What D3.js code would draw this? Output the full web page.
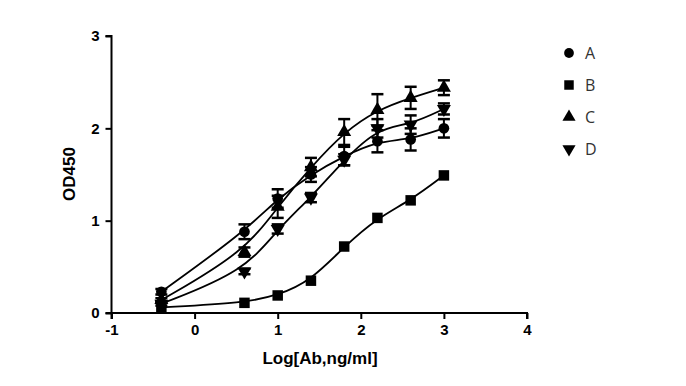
<!DOCTYPE html>
<html><head><meta charset="utf-8">
<script src="https://cdn.jsdelivr.net/npm/d3@7"></script>
<style>body{margin:0;background:#fff}svg{display:block}</style>
</head><body>
<svg id="c" width="686" height="386"></svg>
<script>
const xValues = [-0.4, 0.6, 1.0, 1.4, 1.8, 2.2, 2.6, 3.0];
const seriesNames = ["A", "B", "C", "D"];
const valuesA = [0.23, 0.88, 1.24, 1.50, 1.70, 1.86, 1.88, 2.00];
const valuesB = [0.06, 0.11, 0.19, 0.35, 0.72, 1.03, 1.22, 1.49];
const valuesC = [0.14, 0.66, 1.15, 1.58, 1.96, 2.20, 2.33, 2.44];
const valuesD = [0.10, 0.45, 0.91, 1.25, 1.66, 2.00, 2.04, 2.21];
const errA = [0.03, 0.08, 0.10, 0.08, 0.10, 0.12, 0.12, 0.10];
const errB = [0, 0, 0, 0, 0, 0, 0, 0];
const errC = [0.02, 0.05, 0.12, 0.10, 0.14, 0.17, 0.12, 0.08];
const errD = [0.02, 0.03, 0.05, 0.05, 0.06, 0.10, 0.10, 0.06];
const xTicks = [-1, 0, 1, 2, 3, 4];
const yTicks = [0, 1, 2, 3];
const xTitle = "Log[Ab,ng/ml]";
const yTitle = "OD450";

const symbols = [d3.symbolCircle, d3.symbolSquare, d3.symbolTriangle, "down"];
const values = [valuesA, valuesB, valuesC, valuesD];
const errs = [errA, errB, errC, errD];

const svg = d3.select("#c");
const x = d3.scaleLinear().domain([-1, 4]).range([111.5, 527]);
const y = d3.scaleLinear().domain([0, 3]).range([313, 36]);

function sym(type, size) {
  if (type === "down") return d3.symbol().type(d3.symbolTriangle).size(size)();
  return d3.symbol().type(type).size(size)();
}

const font = "Liberation Sans, Arial, sans-serif";
const gx = svg.append("g").attr("transform", "translate(0,313)")
  .call(d3.axisBottom(x).tickValues(xTicks).tickSize(6).tickPadding(5).tickFormat(d => String(d)));
const gy = svg.append("g").attr("transform", "translate(111.5,0)")
  .call(d3.axisLeft(y).tickValues(yTicks).tickSize(6).tickPadding(6).tickFormat(d => String(d)));
[gx, gy].forEach(g => {
  g.select(".domain").attr("stroke", "#000").attr("stroke-width", 2);
  g.selectAll(".tick line").attr("stroke", "#000").attr("stroke-width", 2);
  g.selectAll(".tick text").attr("fill", "#000")
    .style("font-family", font).style("font-weight", "bold").style("font-size", "15px");
});
gx.select(".domain").attr("d", `M${x(-1)},6V0H${x(4)}V6`);
gy.select(".domain").attr("d", `M-6,${y(3)}H0V${y(0)}H-6`);

svg.append("text").attr("x", 320).attr("y", 364).attr("text-anchor", "middle")
  .style("font-family", font).style("font-weight", "bold").style("font-size", "17px").text(xTitle);
svg.append("text").attr("transform", "translate(75,174) rotate(-90)").attr("text-anchor", "middle")
  .style("font-family", font).style("font-weight", "bold").style("font-size", "17px").text(yTitle);

const line = d3.line().x((d, i) => x(xValues[i])).y(d => y(d)).curve(d3.curveBasis);
const plot = svg.append("g");
values.forEach(vals => {
  plot.append("path").attr("d", line(vals)).attr("fill", "none")
    .attr("stroke", "#000").attr("stroke-width", 1.8);
});
values.forEach((vals, s) => {
  const g = plot.append("g");
  vals.forEach((v, i) => {
    const e = errs[s][i];
    const cx = x(xValues[i]);
    if (e > 0) {
      g.append("line").attr("x1", cx).attr("x2", cx).attr("y1", y(v - e)).attr("y2", y(v + e))
        .attr("stroke", "#000").attr("stroke-width", 2);
      [v - e, v + e].forEach(w => g.append("line").attr("x1", cx - 6).attr("x2", cx + 6)
        .attr("y1", y(w)).attr("y2", y(w)).attr("stroke", "#000").attr("stroke-width", 2.5));
    }
    const t = symbols[s];
    const size = t === d3.symbolSquare ? 110 : (t === d3.symbolCircle ? 90 : 85);
    g.append("path").attr("d", sym(t, size))
      .attr("transform", `translate(${cx},${y(v)})${t === "down" ? " rotate(180)" : ""}`)
      .attr("fill", "#000");
  });
});

const legY = [53, 85, 117, 149];
seriesNames.forEach((n, s) => {
  const t = symbols[s];
  svg.append("path").attr("d", sym(t, t === d3.symbolSquare ? 90 : 75))
    .attr("transform", `translate(569,${legY[s]})${t === "down" ? " rotate(180)" : ""}`)
    .attr("fill", "#000");
  svg.append("text").attr("x", 585).attr("y", legY[s] + 6)
    .style("font-family", "Open Sans, DejaVu Sans, sans-serif").style("font-size", "16px")
    .attr("fill", "#333").text(n);
});
</script>
</body></html>
